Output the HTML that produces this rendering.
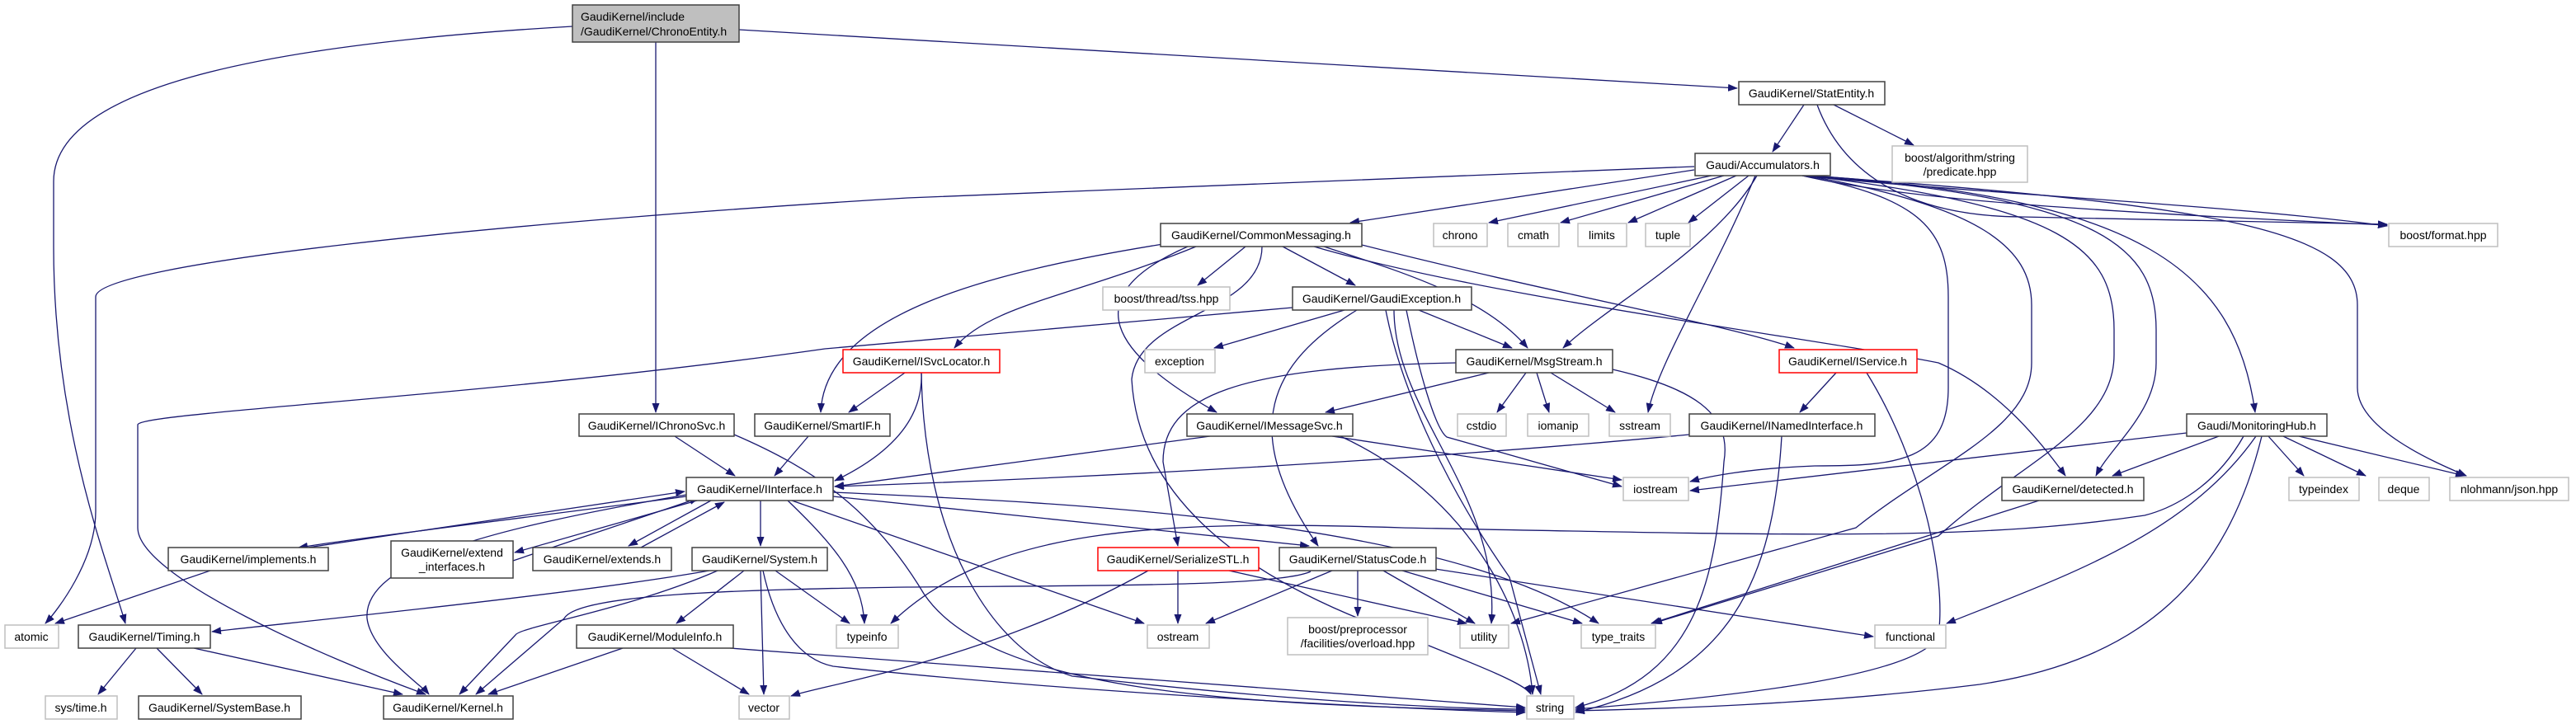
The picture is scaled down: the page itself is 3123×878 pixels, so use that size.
<!DOCTYPE html>
<html><head><meta charset="utf-8"><style>
html,body{margin:0;padding:0;background:#fff;}
svg{display:block;}
text{font-family:"Liberation Sans",sans-serif;font-size:14px;fill:#000;}
.e{fill:none;stroke:#191970;stroke-width:1.3;marker-end:url(#a);}
.n{fill:#fff;stroke:#404040;stroke-width:1.5;}
.s{fill:#fff;stroke:#bfbfbf;stroke-width:1.5;}
.r{fill:#fff;stroke:#ff0000;stroke-width:1.5;}
</style></head><body>
<svg width="3123" height="878" viewBox="0 0 3123 878" xmlns="http://www.w3.org/2000/svg">
<defs><marker id="a" markerWidth="12" markerHeight="9" refX="11" refY="4.5" orient="auto" markerUnits="userSpaceOnUse"><path d="M0,0 L12,4.5 L0,9 z" fill="#191970"/></marker></defs>
<g>
<path class="e" d="M694,32 C300,55 65,110 65,220 L65,300 C65,520 130,680 152,756"/>
<path class="e" d="M795,51 L795,500"/>
<path class="e" d="M896,36 L2106,107"/>
<path class="e" d="M2187,127 L2149,184"/>
<path class="e" d="M2223,127 L2320,176"/>
<path class="e" d="M2203,127 C2230,200 2300,262 2450,263 L2894,272"/>
<path class="e" d="M2185,213 C2300,240 2500,255 2894,273"/>
<path class="e" d="M2185,213 C2400,235 2700,248 2894,274"/>
<path class="e" d="M2075,213 L1805,270"/>
<path class="e" d="M2090,213 L1892,270"/>
<path class="e" d="M2105,213 L1974,270"/>
<path class="e" d="M2120,213 L2047,270"/>
<path class="e" d="M2054,206 L1637,270"/>
<path class="e" d="M2054,202 L1100,240 C600,270 116,320 116,360 L116,620 C116,680 70,740 55,756"/>
<path class="e" d="M2130,213 C2080,300 1950,370 1895,422"/>
<path class="e" d="M2128,213 C2080,330 2010,440 1998,500"/>
<path class="e" d="M2185,213 C2330,240 2362,280 2362,360 L2362,470 C2362,560 2300,565 2200,565 C2120,568 2070,578 2049,584"/>
<path class="e" d="M2190,213 C2400,250 2463,300 2463,370 L2463,440 C2463,520 2350,560 2250,640 L1832,756"/>
<path class="e" d="M2190,213 C2500,250 2563,300 2563,400 L2563,430 C2563,520 2450,560 2350,650 L2004,756"/>
<path class="e" d="M2190,213 C2550,240 2614,300 2614,400 L2614,440 C2614,500 2560,540 2541,577"/>
<path class="e" d="M2195,213 C2600,240 2710,330 2734,500"/>
<path class="e" d="M2195,213 C2700,250 2858,280 2858,370 L2858,470 C2858,520 2950,560 2990,577"/>
<path class="e" d="M2651,525 L2049,595"/>
<path class="e" d="M2690,529 L2561,577"/>
<path class="e" d="M2750,529 L2793,577"/>
<path class="e" d="M2768,529 L2868,577"/>
<path class="e" d="M2787,529 L2988,577"/>
<path class="e" d="M2720,529 C2680,600 2620,620 2600,625 C2400,655 2200,650 1700,640 C1400,630 1200,640 1080,756"/>
<path class="e" d="M2735,529 C2650,650 2500,700 2360,756"/>
<path class="e" d="M2742,529 C2700,700 2600,800 2400,830 C2200,855 2000,860 1910,862"/>
<path class="e" d="M2472,607 L2002,756"/>
<path class="e" d="M2226,452 L2182,500"/>
<path class="e" d="M2263,452 C2330,560 2360,700 2350,770 C2330,820 2100,845 1910,860"/>
<path class="e" d="M2048,527 C1700,560 1300,580 1012,590"/>
<path class="e" d="M2160,529 C2150,700 2100,820 1910,864"/>
<path class="e" d="M1510,299 L1452,346"/>
<path class="e" d="M1555,299 L1643,346"/>
<path class="e" d="M1605,299 C1700,330 1800,360 1852,422"/>
<path class="e" d="M1651,297 C1900,360 2100,395 2175,422"/>
<path class="e" d="M1593,299 C1800,360 2200,410 2350,440 C2420,470 2470,530 2504,577"/>
<path class="e" d="M1450,299 C1300,360 1200,370 1157,422"/>
<path class="e" d="M1410,296 C1200,330 1000,380 995,500"/>
<path class="e" d="M1440,299 C1300,360 1350,430 1475,500"/>
<path class="e" d="M1530,299 C1530,380 1380,380 1372,460 C1380,600 1500,700 1700,770 C1800,810 1850,830 1856,842"/>
<path class="e" d="M1630,376 L1472,422"/>
<path class="e" d="M1720,376 L1833,422"/>
<path class="e" d="M1567,373 L1000,423 C600,480 170,500 167,515 L167,640 C167,700 400,800 516,842"/>
<path class="e" d="M1645,376 C1540,440 1500,520 1598,662"/>
<path class="e" d="M1680,376 C1700,480 1760,600 1830,700 L1868,842"/>
<path class="e" d="M1705,376 C1720,450 1740,520 1754,530 L1966,590"/>
<path class="e" d="M1690,376 C1690,500 1820,600 1808,756"/>
<path class="e" d="M1805,452 L1607,500"/>
<path class="e" d="M1850,452 L1815,500"/>
<path class="e" d="M1863,452 L1878,500"/>
<path class="e" d="M1880,452 L1958,500"/>
<path class="e" d="M1765,440 C1500,445 1410,480 1410,560 L1428,662"/>
<path class="e" d="M1955,448 C2050,470 2100,500 2090,560 C2080,700 2060,820 1910,858"/>
<path class="e" d="M1467,529 L1012,590"/>
<path class="e" d="M1615,529 L1966,582"/>
<path class="e" d="M1625,529 C1780,600 1850,740 1858,842"/>
<path class="e" d="M1097,452 L1029,500"/>
<path class="e" d="M1117,452 C1120,520 1060,560 1012,583"/>
<path class="e" d="M1117,452 C1120,650 1200,790 1300,820 C1600,855 1800,860 1849,860"/>
<path class="e" d="M980,529 L939,577"/>
<path class="e" d="M818,529 L891,577"/>
<path class="e" d="M890,527 C990,570 1060,620 1120,720 C1200,840 1500,855 1849,862"/>
<path class="e" d="M922,607 L922,662"/>
<path class="e" d="M832,602 C700,620 450,650 362,664"/>
<path class="e" d="M373,664 L830,596"/>
<path class="e" d="M845,607 L624,670"/>
<path class="e" d="M622,680 L847,604"/>
<path class="e" d="M862,607 L762,662"/>
<path class="e" d="M777,664 L878,609"/>
<path class="e" d="M832,600 C600,640 440,680 445,750 C450,790 510,830 520,842"/>
<path class="e" d="M955,607 C1010,660 1045,700 1048,756"/>
<path class="e" d="M960,607 L1387,756"/>
<path class="e" d="M1010,597 C1300,610 1750,630 1938,756"/>
<path class="e" d="M1010,602 L1587,662"/>
<path class="e" d="M860,692 C700,720 400,750 257,766"/>
<path class="e" d="M870,692 C760,740 630,760 625,770 L557,842"/>
<path class="e" d="M902,692 L820,756"/>
<path class="e" d="M922,692 L926,842"/>
<path class="e" d="M940,692 L1030,756"/>
<path class="e" d="M925,692 C940,760 970,800 1010,808 C1300,840 1700,860 1849,864"/>
<path class="e" d="M755,786 L592,842"/>
<path class="e" d="M815,786 L908,842"/>
<path class="e" d="M885,786 L1849,858"/>
<path class="e" d="M165,786 L119,842"/>
<path class="e" d="M190,786 L245,842"/>
<path class="e" d="M235,786 L488,842"/>
<path class="e" d="M255,692 L67,756"/>
<path class="e" d="M1428,692 L1428,756"/>
<path class="e" d="M1490,692 L1778,756"/>
<path class="e" d="M1392,692 C1200,800 1000,830 959,844"/>
<path class="e" d="M1615,692 L1462,756"/>
<path class="e" d="M1646,692 L1646,747"/>
<path class="e" d="M1677,692 L1788,756"/>
<path class="e" d="M1700,692 L1918,756"/>
<path class="e" d="M1740,690 L2271,772"/>
<path class="e" d="M1589,693 C1550,712 1300,710 1100,712 C900,715 700,720 684,750 L577,842"/>
</g>
<g>
<rect x="694" y="6" width="202" height="45" fill="#bfbfbf" stroke="#404040" stroke-width="1.5"/>
<text x="704" y="25">GaudiKernel/include</text><text x="704" y="43">/GaudiKernel/ChronoEntity.h</text>

<rect class="n" x="2108" y="99" width="177" height="28"/><text x="2196" y="118" text-anchor="middle">GaudiKernel/StatEntity.h</text>
<rect class="n" x="2055" y="186" width="164" height="27"/><text x="2137" y="205" text-anchor="middle">Gaudi/Accumulators.h</text>
<rect class="s" x="2294" y="177" width="164" height="44"/><text x="2376" y="196" text-anchor="middle">boost/algorithm/string</text><text x="2376" y="213" text-anchor="middle">/predicate.hpp</text>
<rect class="s" x="2896" y="271" width="132" height="28"/><text x="2962" y="290" text-anchor="middle">boost/format.hpp</text>

<rect class="n" x="1407" y="271" width="244" height="28"/><text x="1529" y="290" text-anchor="middle">GaudiKernel/CommonMessaging.h</text>
<rect class="s" x="1738" y="271" width="65" height="28"/><text x="1770" y="290" text-anchor="middle">chrono</text>
<rect class="s" x="1828" y="271" width="62" height="28"/><text x="1859" y="290" text-anchor="middle">cmath</text>
<rect class="s" x="1913" y="271" width="59" height="28"/><text x="1942" y="290" text-anchor="middle">limits</text>
<rect class="s" x="1995" y="271" width="54" height="28"/><text x="2022" y="290" text-anchor="middle">tuple</text>

<rect class="s" x="1337" y="348" width="154" height="28"/><text x="1414" y="367" text-anchor="middle">boost/thread/tss.hpp</text>
<rect class="n" x="1567" y="348" width="217" height="28"/><text x="1675" y="367" text-anchor="middle">GaudiKernel/GaudiException.h</text>

<rect class="r" x="1022" y="424" width="190" height="28"/><text x="1117" y="443" text-anchor="middle">GaudiKernel/ISvcLocator.h</text>
<rect class="s" x="1388" y="424" width="85" height="28"/><text x="1430" y="443" text-anchor="middle">exception</text>
<rect class="n" x="1765" y="424" width="190" height="28"/><text x="1860" y="443" text-anchor="middle">GaudiKernel/MsgStream.h</text>
<rect class="r" x="2157" y="424" width="167" height="28"/><text x="2240" y="443" text-anchor="middle">GaudiKernel/IService.h</text>

<rect class="n" x="702" y="502" width="188" height="27"/><text x="796" y="521" text-anchor="middle">GaudiKernel/IChronoSvc.h</text>
<rect class="n" x="915" y="502" width="164" height="27"/><text x="997" y="521" text-anchor="middle">GaudiKernel/SmartIF.h</text>
<rect class="n" x="1439" y="502" width="201" height="27"/><text x="1539" y="521" text-anchor="middle">GaudiKernel/IMessageSvc.h</text>
<rect class="s" x="1767" y="502" width="59" height="27"/><text x="1796" y="521" text-anchor="middle">cstdio</text>
<rect class="s" x="1852" y="502" width="74" height="27"/><text x="1889" y="521" text-anchor="middle">iomanip</text>
<rect class="s" x="1951" y="502" width="74" height="27"/><text x="1988" y="521" text-anchor="middle">sstream</text>
<rect class="n" x="2048" y="502" width="225" height="27"/><text x="2160" y="521" text-anchor="middle">GaudiKernel/INamedInterface.h</text>
<rect class="n" x="2651" y="502" width="170" height="27"/><text x="2736" y="521" text-anchor="middle">Gaudi/MonitoringHub.h</text>

<rect class="n" x="832" y="579" width="178" height="28"/><text x="921" y="598" text-anchor="middle">GaudiKernel/IInterface.h</text>
<rect class="s" x="1968" y="579" width="79" height="28"/><text x="2007" y="598" text-anchor="middle">iostream</text>
<rect class="n" x="2427" y="579" width="172" height="28"/><text x="2513" y="598" text-anchor="middle">GaudiKernel/detected.h</text>
<rect class="s" x="2775" y="579" width="85" height="28"/><text x="2817" y="598" text-anchor="middle">typeindex</text>
<rect class="s" x="2884" y="579" width="61" height="28"/><text x="2914" y="598" text-anchor="middle">deque</text>
<rect class="s" x="2970" y="579" width="144" height="28"/><text x="3042" y="598" text-anchor="middle">nlohmann/json.hpp</text>

<rect class="n" x="204" y="664" width="194" height="28"/><text x="301" y="683" text-anchor="middle">GaudiKernel/implements.h</text>
<rect class="n" x="474" y="656" width="148" height="45"/><text x="548" y="675" text-anchor="middle">GaudiKernel/extend</text><text x="548" y="692" text-anchor="middle">_interfaces.h</text>
<rect class="n" x="646" y="664" width="168" height="28"/><text x="730" y="683" text-anchor="middle">GaudiKernel/extends.h</text>
<rect class="n" x="839" y="664" width="164" height="28"/><text x="921" y="683" text-anchor="middle">GaudiKernel/System.h</text>
<rect class="r" x="1331" y="664" width="195" height="28"/><text x="1428" y="683" text-anchor="middle">GaudiKernel/SerializeSTL.h</text>
<rect class="n" x="1551" y="664" width="190" height="28"/><text x="1646" y="683" text-anchor="middle">GaudiKernel/StatusCode.h</text>

<rect class="s" x="6" y="758" width="65" height="28"/><text x="38" y="777" text-anchor="middle">atomic</text>
<rect class="n" x="95" y="758" width="160" height="28"/><text x="175" y="777" text-anchor="middle">GaudiKernel/Timing.h</text>
<rect class="n" x="699" y="758" width="190" height="28"/><text x="794" y="777" text-anchor="middle">GaudiKernel/ModuleInfo.h</text>
<rect class="s" x="1014" y="758" width="75" height="28"/><text x="1051" y="777" text-anchor="middle">typeinfo</text>
<rect class="s" x="1391" y="758" width="75" height="28"/><text x="1428" y="777" text-anchor="middle">ostream</text>
<rect class="s" x="1561" y="749" width="170" height="45"/><text x="1646" y="768" text-anchor="middle">boost/preprocessor</text><text x="1646" y="785" text-anchor="middle">/facilities/overload.hpp</text>
<rect class="s" x="1770" y="758" width="59" height="28"/><text x="1799" y="777" text-anchor="middle">utility</text>
<rect class="s" x="1917" y="758" width="90" height="28"/><text x="1962" y="777" text-anchor="middle">type_traits</text>
<rect class="s" x="2273" y="758" width="86" height="28"/><text x="2316" y="777" text-anchor="middle">functional</text>

<rect class="s" x="55" y="844" width="87" height="28"/><text x="98" y="863" text-anchor="middle">sys/time.h</text>
<rect class="n" x="168" y="844" width="197" height="28"/><text x="266" y="863" text-anchor="middle">GaudiKernel/SystemBase.h</text>
<rect class="n" x="465" y="844" width="157" height="28"/><text x="543" y="863" text-anchor="middle">GaudiKernel/Kernel.h</text>
<rect class="s" x="896" y="844" width="61" height="28"/><text x="926" y="863" text-anchor="middle">vector</text>
<rect class="s" x="1851" y="844" width="57" height="28"/><text x="1879" y="863" text-anchor="middle">string</text>
</g>
</svg>
</body></html>
